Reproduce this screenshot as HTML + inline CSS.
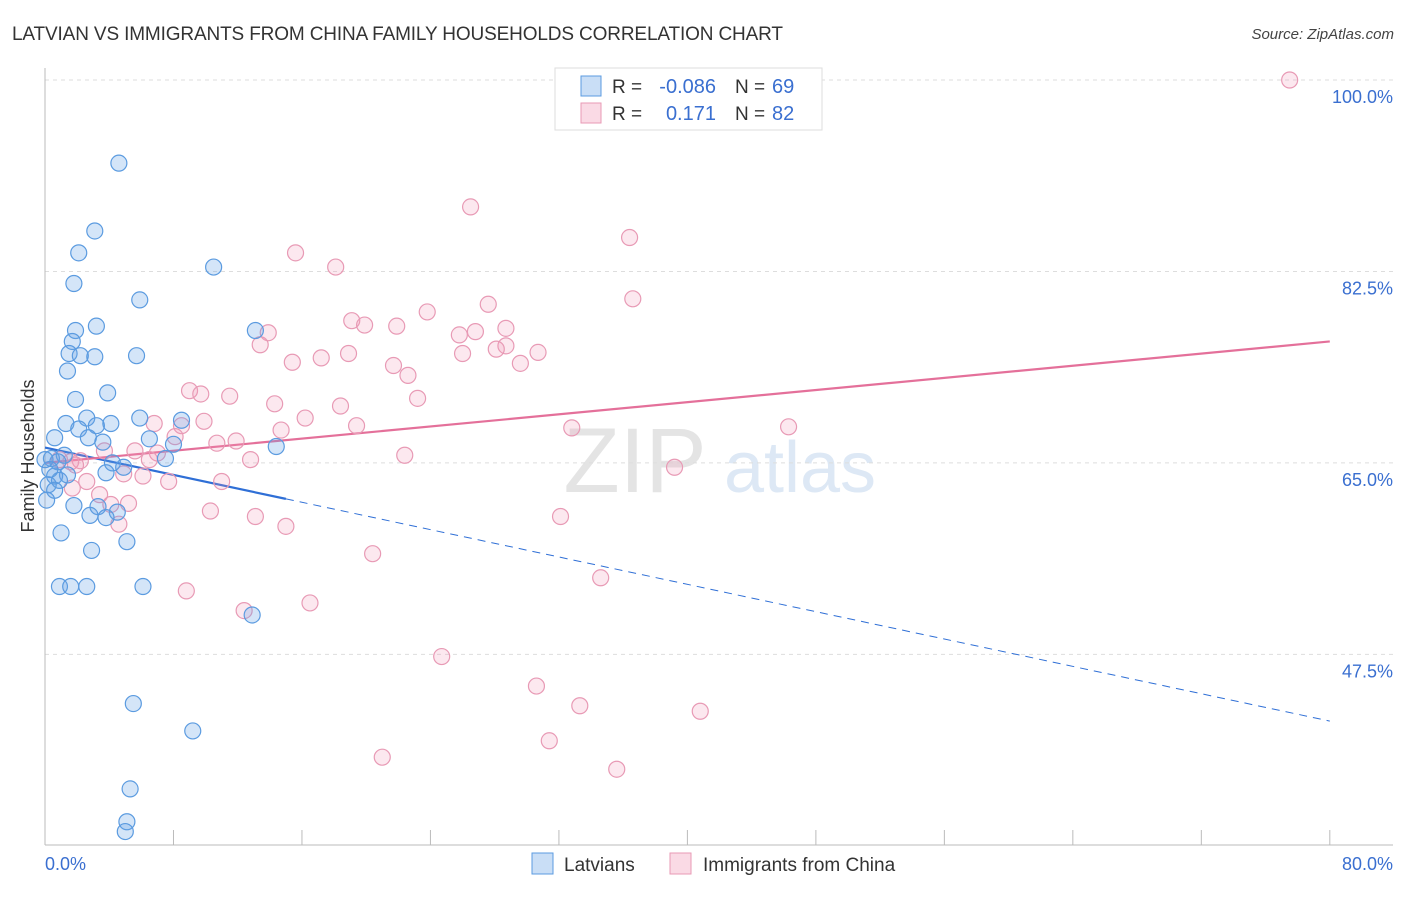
<!DOCTYPE html>
<html><head><meta charset="utf-8"><style>
body{margin:0;background:#fff;font-family:"Liberation Sans",sans-serif}
svg text{font-family:"Liberation Sans",sans-serif}
</style></head><body>
<svg id="chart" width="1406" height="892" xmlns="http://www.w3.org/2000/svg">
<text x="12" y="40" font-size="19" fill="#333" textLength="771">LATVIAN VS IMMIGRANTS FROM CHINA FAMILY HOUSEHOLDS CORRELATION CHART</text>
<text x="1394" y="39" font-size="15" fill="#444" text-anchor="end" font-style="italic">Source: ZipAtlas.com</text>
<text x="635" y="492" font-size="92" fill="#e4e4e4" font-family="Liberation Serif" text-anchor="middle">ZIP</text>
<text x="800" y="492" font-size="72" fill="#dde8f5" text-anchor="middle">atlas</text>
<g id="grid"></g><g id="axes"></g><g id="lines"></g><g id="pts"></g>
<text x="34" y="456" font-size="18" fill="#333" text-anchor="middle" transform="rotate(-90 34 456)">Family Households</text>
<g>
<rect x="555" y="68" width="267" height="62" fill="#fff" stroke="#ddd"/>
<rect x="581" y="76" width="20" height="20" fill="rgba(100,160,230,0.35)" stroke="#5b9be0"/>
<rect x="581" y="103" width="20" height="20" fill="rgba(240,150,180,0.35)" stroke="#e89ab5"/>
<text x="612" y="93" font-size="19" fill="#333">R =</text>
<text x="716" y="93" font-size="20" fill="#3a6fd0" text-anchor="end">-0.086</text>
<text x="735" y="93" font-size="19" fill="#333">N =</text>
<text x="772" y="93" font-size="20" fill="#3a6fd0">69</text>
<text x="612" y="120" font-size="19" fill="#333">R =</text>
<text x="716" y="120" font-size="20" fill="#3a6fd0" text-anchor="end">0.171</text>
<text x="735" y="120" font-size="19" fill="#333">N =</text>
<text x="772" y="120" font-size="20" fill="#3a6fd0">82</text>
</g>
<g>
<rect x="532" y="853" width="21" height="21" fill="rgba(100,160,230,0.35)" stroke="#5b9be0"/>
<text x="564" y="871" font-size="19" fill="#333">Latvians</text>
<rect x="670" y="853" width="21" height="21" fill="rgba(240,150,180,0.35)" stroke="#e89ab5"/>
<text x="703" y="871" font-size="19" fill="#333">Immigrants from China</text>
</g>
</svg>
<script>
const yTicks=[100,82.5,65,47.5];
const xTickVals=[8,16,24,32,40,48,56,64,72,80];
const blueX=[4.6,3.1,2.1,10.5,1.8,5.9,3.2,1.9,13.1,1.7,1.5,2.2,3.1,5.7,1.4,3.9,1.9,5.9,2.6,8.5,1.3,4.1,2.1,3.2,0.6,2.7,6.5,3.6,8.0,14.4,7.5,1.2,0.4,0.8,4.2,4.9,3.8,1.4,0.6,0.9,0.2,0.6,0.1,1.8,3.3,2.8,4.5,3.8,1.0,2.9,5.1,0.9,1.6,2.6,6.1,12.9,5.5,9.2,5.3,5.1,5.0,0.3,0.0];
const blueY=[92.4,86.2,84.2,82.9,81.4,79.9,77.5,77.1,77.1,76.1,75.0,74.8,74.7,74.8,73.4,71.4,70.8,69.1,69.1,68.9,68.6,68.6,68.1,68.4,67.3,67.3,67.2,66.9,66.7,66.5,65.4,65.7,65.4,65.1,65.0,64.6,64.1,63.9,63.8,63.4,63.0,62.5,61.6,61.1,61.0,60.2,60.5,60.0,58.6,57.0,57.8,53.7,53.7,53.7,53.7,51.1,43.0,40.5,35.2,32.2,31.3,64.4,65.3];
const pinkX=[77.5,26.5,36.4,15.6,18.1,36.6,27.6,23.8,19.1,19.9,21.9,28.7,26.8,13.9,25.8,13.4,28.7,28.1,30.7,18.9,26.0,17.2,15.4,29.6,21.7,22.6,9.0,9.7,11.5,23.2,14.3,18.4,16.2,9.9,6.8,8.5,19.4,32.8,46.3,14.7,8.1,11.9,10.7,3.7,5.6,7.0,22.4,12.8,2.2,1.6,39.2,4.9,6.1,11.0,7.7,2.6,1.7,3.4,5.2,4.1,10.3,13.1,32.1,4.6,15.0,20.4,34.6,8.8,12.4,16.5,24.7,30.6,33.3,40.8,31.4,21.0,35.6,0.9,1.9,6.5];
const pinkY=[100,88.4,85.6,84.2,82.9,80.0,79.5,78.8,78.0,77.6,77.5,77.3,77.0,76.9,76.7,75.8,75.7,75.4,75.1,75.0,75.0,74.6,74.2,74.1,73.9,73.0,71.6,71.3,71.1,70.9,70.4,70.2,69.1,68.8,68.6,68.4,68.4,68.2,68.3,68.0,67.4,67.0,66.8,66.1,66.1,65.9,65.7,65.3,65.2,65.1,64.6,64.0,63.8,63.3,63.3,63.3,62.7,62.1,61.3,61.2,60.6,60.1,60.1,59.4,59.2,56.7,54.5,53.3,51.5,52.2,47.3,44.6,42.8,42.3,39.6,38.1,37.0,65.3,64.8,65.3];
const blueFit=[66.4,41.4];
const pinkFit=[65.0,76.1];
const NS='http://www.w3.org/2000/svg';
const X=v=>45+v*16.06, Y=v=>80+(100-v)*10.94;
function mk(t,a,p){const e=document.createElementNS(NS,t);for(const k in a)e.setAttribute(k,a[k]);p.appendChild(e);return e;}
const grid=document.getElementById('grid'),axes=document.getElementById('axes'),lines=document.getElementById('lines'),pts=document.getElementById('pts');
yTicks.forEach(v=>{
 const l=mk('line',{x1:45,x2:1393,y1:Y(v),y2:Y(v),stroke:'#ddd','stroke-dasharray':'4,4'},grid);
 
 
 const t=mk('text',{x:1393,y:Y(v)+23,'font-size':18,fill:'#3a6fd0','text-anchor':'end'},axes);t.textContent=v.toFixed(1)+'%';
 
 
});
const ax=mk('line',{x1:45,x2:1393,y1:845,y2:845,stroke:'#bbb'},axes);


const ay=mk('line',{x1:45,x2:45,y1:68,y2:845,stroke:'#bbb'},axes);


xTickVals.forEach(v=>{const l=mk('line',{x1:X(v),x2:X(v),y1:830,y2:845,stroke:'#bbb'},axes);
 
 });
[[0,'start',45],[80,'end',1393]].forEach(([v,a,x])=>{const t=mk('text',{x:x,y:870,'font-size':18,fill:'#3a6fd0','text-anchor':a},axes);t.textContent=v.toFixed(1)+'%';
 
 });
function dot(x,y,f,s,n){const c=mk('circle',{cx:X(x),cy:Y(y),r:8,fill:f,stroke:s,'stroke-width':1.2},pts);
 
 }
pinkX.forEach((x,i)=>dot(x,pinkY[i],'rgba(240,150,180,0.22)','#e89ab5','china-point'));
blueX.forEach((x,i)=>dot(x,blueY[i],'rgba(100,160,230,0.28)','#5b9be0','latvian-point'));
const bAt=x=>blueFit[0]+(blueFit[1]-blueFit[0])*x/80;
let l1=mk('line',{x1:X(0),y1:Y(bAt(0)),x2:X(15),y2:Y(bAt(15)),stroke:'#2f6fd6','stroke-width':2.2},lines);


let l2=mk('line',{x1:X(15),y1:Y(bAt(15)),x2:X(80),y2:Y(bAt(80)),stroke:'#2f6fd6','stroke-width':1,'stroke-dasharray':'8,6'},lines);


let l3=mk('line',{x1:X(0),y1:Y(pinkFit[0]),x2:X(80),y2:Y(pinkFit[1]),stroke:'#e4709a','stroke-width':2.2},lines);


</script>
</body></html>
